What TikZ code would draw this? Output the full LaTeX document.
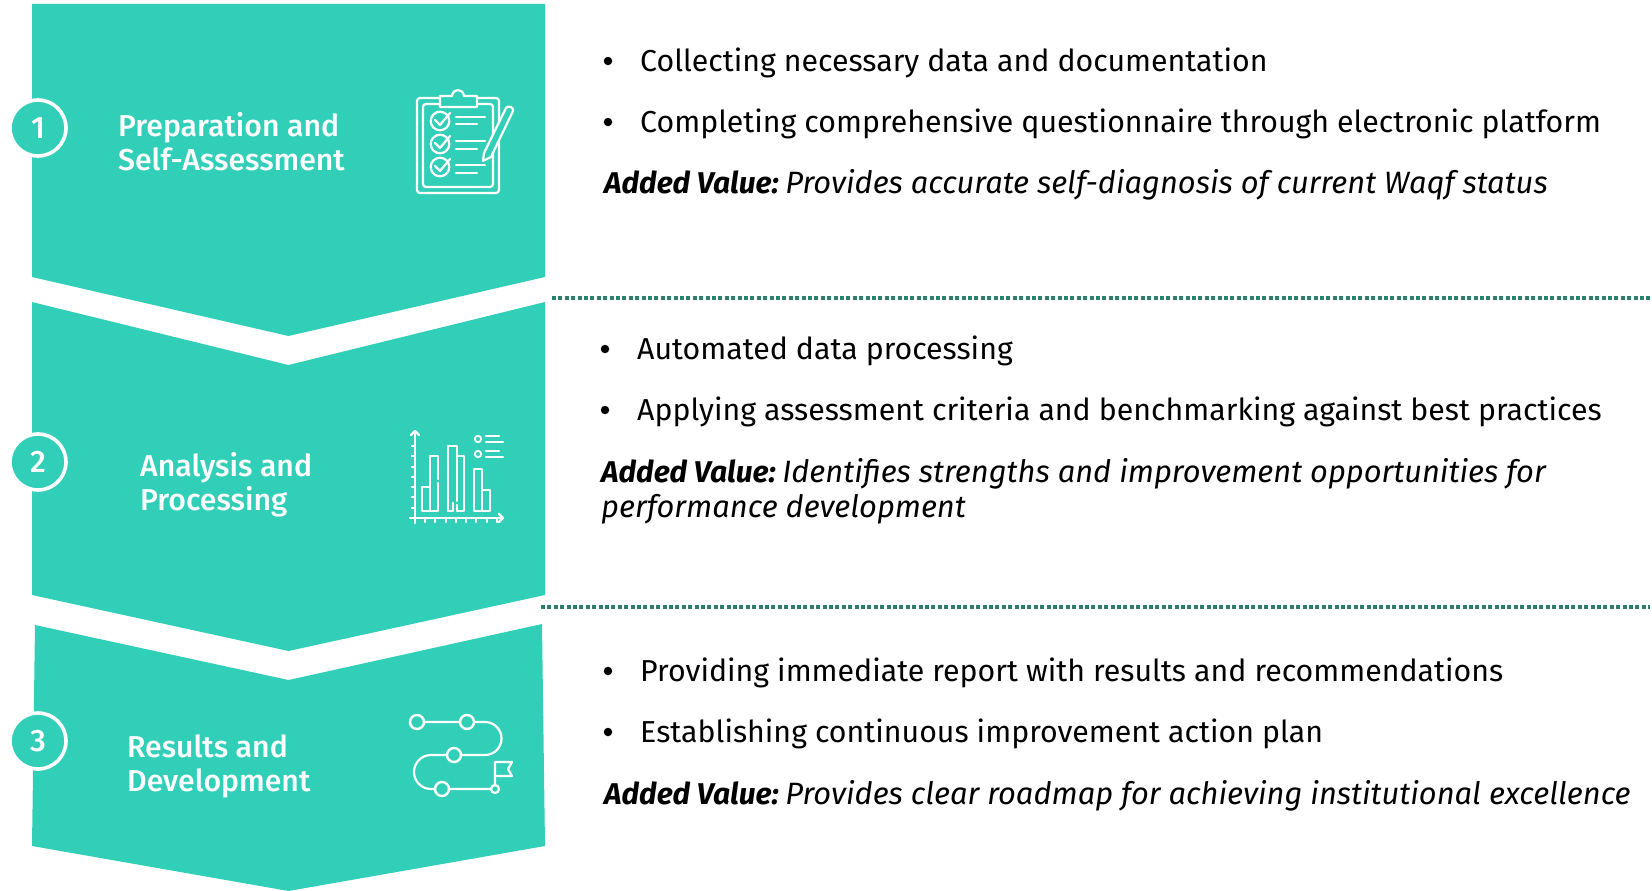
\documentclass[tikz,border=0pt]{standalone}
\usepackage{fontspec}
\setmainfont{Fira Sans}
\newfontfamily\titlefont{Fira Sans Medium}
\definecolor{mint}{HTML}{32CFB8}
\definecolor{dotgreen}{HTML}{2F7D6B}
\tikzset{
    chevron/.style={fill=mint,draw=none},
    badge/.style={circle,fill=mint,draw=white,line width=3.6pt,minimum size=56pt,inner sep=0pt,text=white,font=\titlefont\fontsize{31}{34}\selectfont},
    steptitle/.style={anchor=west,align=left,text=white,inner sep=0pt,font=\titlefont\fontsize{30.2}{34}\selectfont},
    bodyline/.style={anchor=base west,inner sep=0pt,text=black,font=\fontsize{30.3}{35}\selectfont},
    addline/.style={anchor=base west,inner sep=0pt,text=black,font=\fontsize{30.85}{35}\selectfont\itshape},
    dot/.style={circle,fill=black,minimum size=8.5pt,inner sep=0pt},
    divider/.style={dotgreen,line width=3.6pt,dash pattern=on 4pt off 2.4pt},
    icon/.style={draw=white,line width=2.2pt,line cap=round,line join=round},
}
\newcommand{\addedvalue}{{\fontsize{30}{35}\selectfont\bfseries Added Value:}\hspace{6.5pt}}
\begin{document}
\begin{tikzpicture}[x=1pt,y=-1pt]
    \useasboundingbox (0,0) rectangle (1652,891);
    % chevrons
    \fill[chevron] (32,4) -- (545,4) -- (545,277) -- (288.5,336) -- (32,277) -- cycle;
    \fill[chevron] (32,302) -- (288.5,365) -- (545,302) -- (545,595) -- (288.5,651) -- (32,595) -- cycle;
    \fill[chevron] (35,625) -- (288.5,680) -- (542,624) -- (545,846) -- (288.5,891) -- (32,846) -- cycle;
    % numbers
    \foreach \pos/\name/\num in {
            {(38,128)/one/1}, {(38,462)/two/2}, {(38,741)/three/3}}
        \node[badge] (\name) at \pos {\num};
    % step titles
    \node[steptitle] (prep) at (118,142) {Preparation and\\Self-Assessment};
    \node[steptitle] (anal) at (140,485) {Analysis and\\Processing};
    \node[steptitle] (resu) at (127,766) {Results and\\Development};
    % dividers
    \coordinate (d1a) at (552,298);
    \coordinate (d1b) at (1652,298);
    \coordinate (d2a) at (541,607);
    \coordinate (d2b) at (1650,607);
    \draw[divider] (d1a) -- (d1b);
    \draw[divider] (d2a) -- (d2b);
    % bullets
    \foreach \pos/\name in {
            {(608,61)/b1}, {(608,122)/b2}, {(605,349)/b3}, {(605,410)/b4}, {(608,671)/b5}, {(608,732)/b6}}
        \node[dot] (\name) at \pos {};
    % texts
    \node[bodyline] (t1) at (640,71) {Collecting necessary data and documentation};
    \node[bodyline] (t2) at (640,132) {Completing comprehensive questionnaire through electronic platform};
    \node[addline] (t3) at (604,193) {\addedvalue Provides accurate self-diagnosis of current Waqf status};
    \node[bodyline] (t4) at (637,359) {Automated data processing};
    \node[bodyline] (t5) at (637,420) {Applying assessment criteria and benchmarking against best practices};
    \node[addline] (t6) at (601,482) {\addedvalue Identifies strengths and improvement opportunities for};
    \node[addline] (t7) at (601,517) {performance development};
    \node[bodyline] (t8) at (640,681) {Providing immediate report with results and recommendations};
    \node[bodyline] (t9) at (640,742) {Establishing continuous improvement action plan};
    \node[addline] (t10) at (604,804) {\addedvalue Provides clear roadmap for achieving institutional excellence};
    % clipboard icon
    \draw[icon,rounded corners=3pt] (417,98) rectangle (499,193);
    \draw[icon,rounded corners=3pt] (423,104) rectangle (493,187);
    \draw[icon,fill=mint] (440,107) -- (440,96) -- (452,96) .. controls (453,88) and (463,88) .. (464,96) -- (477,96) -- (477,107) -- cycle;
    \foreach \y in {121,144,167} {
        \draw[icon] (440,\y) circle (9.3);
        \draw[icon] (435,\y-1) -- (440,\y+4) -- (450,\y-8);
    }
    \foreach \y/\ya in {117/124,141/149,165/173} {
        \draw[icon] (456,\y) -- (485,\y);
        \draw[icon] (456,\ya) -- (477,\ya);
    }
    \draw[icon,fill=mint] (483,161) -- (484,153) -- (506,108) .. controls (508,105) and (514,107) .. (513,111) -- (491,157) -- cycle;
    % chart icon
    \draw[icon] (415,431) -- (415,523);
    \draw[icon] (411,435) -- (415,431) -- (419,435);
    \draw[icon] (410,518) -- (503,518);
    \draw[icon] (499,514) -- (503,518) -- (499,522);
    \foreach \y in {446,456,467,477,487,497,508}
        \draw[icon] (412,\y) -- (415,\y);
    \foreach \x in {425,435,446,456,466,476,487,497}
        \draw[icon] (\x,518) -- (\x,522);
    \draw[icon] (430,511) rectangle (422,487);
    \draw[icon] (438,479) -- (438,456) -- (430,456) -- (430,511) -- (438,511) -- (438,483);
    \draw[icon] (448,511) -- (448,446) -- (457,446) -- (457,501);
    \draw[icon] (448,511) -- (453,511) -- (453,503);
    \draw[icon] (457,511) -- (464,511) -- (464,456) -- (457,456);
    \draw[icon] (457,505) -- (457,511);
    \draw[icon] (482,511) rectangle (474,469);
    \draw[icon] (482,490) -- (490,490) -- (490,511) -- (482,511);
    \draw[icon,line width=1.8pt] (478,439) circle (3.2);
    \draw[icon,line width=1.8pt] (478,454) circle (3.2);
    \draw[icon] (486,436) -- (499,436);
    \draw[icon] (486,442) -- (503,442);
    \draw[icon] (486,451) -- (499,451);
    \draw[icon] (486,457) -- (503,457);
    % route icon
    \draw[icon] (417,722) -- (485,722) arc[start angle=-90,end angle=90,radius=16.5];
    \draw[icon] (485,755) -- (431,755) arc[start angle=-90,end angle=-270,radius=17] -- (495,789);
    \foreach \pos/\name in {{(417,722)/r1}, {(467,722)/r2}, {(454,755)/r3}, {(442,789)/r4}}
        \node[circle,draw=white,fill=mint,line width=2.4pt,minimum size=14pt,inner sep=0pt] (\name) at \pos {};
    \node[circle,draw=white,fill=mint,line width=2.2pt,minimum size=8pt,inner sep=0pt] (r5) at (495,789) {};
    \draw[icon] (495,785) -- (495,762) -- (512,762) -- (508,769) -- (512,776) -- (495,776);
\end{tikzpicture}
\end{document}
